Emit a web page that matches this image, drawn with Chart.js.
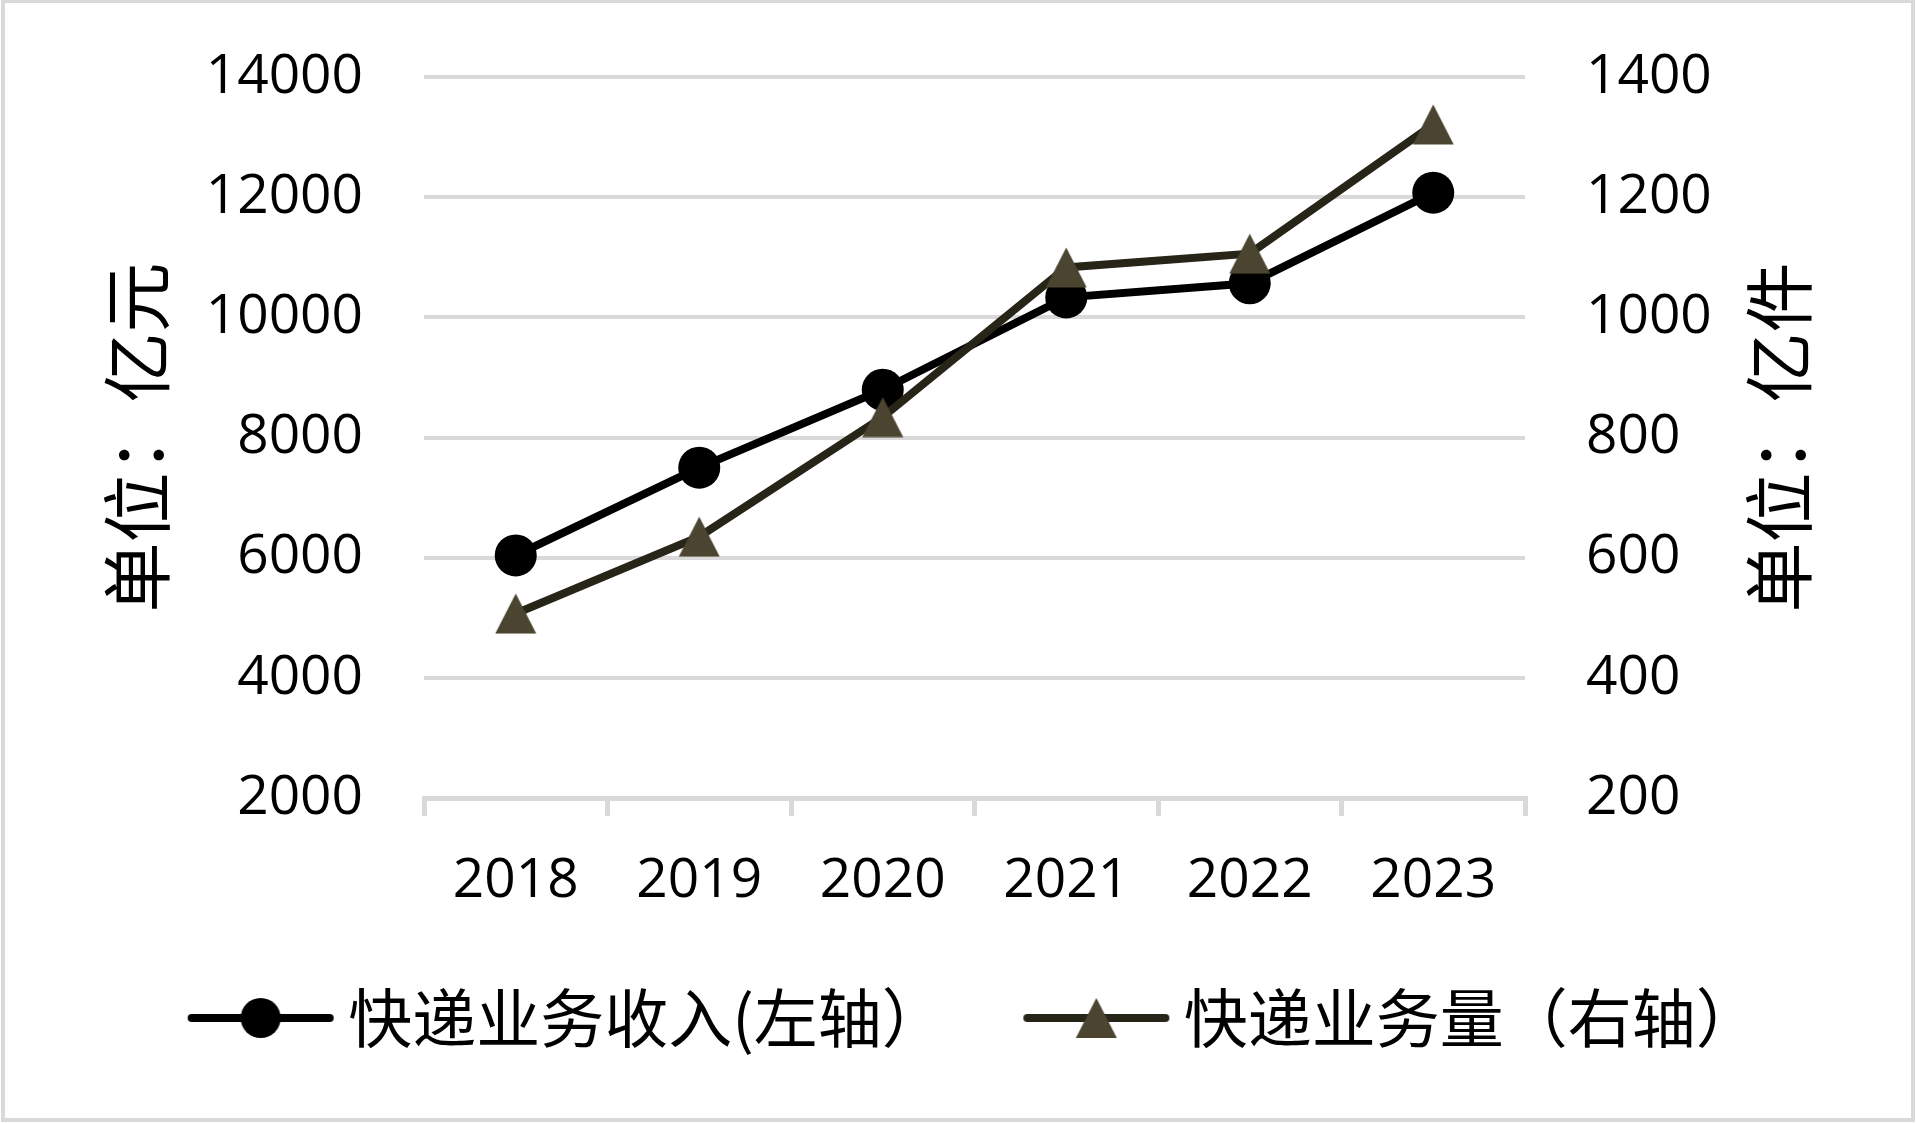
<!DOCTYPE html>
<html>
<head>
<meta charset="utf-8">
<script src="https://cdn.jsdelivr.net/npm/chart.js@4"></script>
<style>
  html, body { margin: 0; padding: 0; background: #fff; }
  #wrap { width: 1917px; height: 1123px; }
</style>
</head>
<body>
<div id="wrap"><canvas id="expressChart"></canvas></div>
<script>
// data
const years = ['2018', '2019', '2020', '2021', '2022', '2023'];
const revenue = [6038, 7498, 8795, 10332, 10567, 12074];   // 亿元, left axis
const volume = [507, 635, 834, 1083, 1106, 1321];          // 亿件, right axis
const seriesNames = ['快递业务收入(左轴）', '快递业务量（右轴）'];
const axisTitles = ['单位：亿元', '单位：亿件'];

const GRID = '#d9d9d9';
const revColor = '#000000';
const volLine = '#272418';
const volMarker = '#4a4430';

// triangle marker centred on its box, like the office-style marker
function triangle(g, cx, cy, w, h) {
  g.beginPath();
  g.moveTo(cx, cy - h / 2);
  g.lineTo(cx + w / 2, cy + h / 2);
  g.lineTo(cx - w / 2, cy + h / 2);
  g.closePath();
  g.fill();
}
const triMark = document.createElement('canvas');
triMark.width = 42; triMark.height = 41;
(() => {
  const g = triMark.getContext('2d');
  g.fillStyle = volMarker;
  triangle(g, 21, 20.5, 41, 40);
})();

// legend icons: line with marker in the middle
function makeIcon(lineColor, markColor, style) {
  const c = document.createElement('canvas');
  c.width = 148; c.height = 52;
  const g = c.getContext('2d');
  g.strokeStyle = lineColor;
  g.lineWidth = 8;
  g.lineCap = 'round';
  g.beginPath(); g.moveTo(5, 26); g.lineTo(143, 26); g.stroke();
  g.fillStyle = markColor;
  if (style === 'circle') {
    g.beginPath();
    g.arc(74, 26, 20, 0, Math.PI * 2);
    g.fill();
  } else {
    triangle(g, 74, 26, 41, 40);
  }
  return c;
}
const legendIcons = [
  makeIcon(revColor, revColor, 'circle'),
  makeIcon(volLine, volMarker, 'triangle')
];

// rotated unit titles on both sides (both read bottom to top)
const unitTitles = {
  id: 'unitTitles',
  afterDraw(chart) {
    const { ctx, chartArea } = chart;
    const cy = (chartArea.top + chartArea.bottom) / 2;
    ctx.save();
    ctx.fillStyle = '#000';
    ctx.font = '70px "Noto Sans CJK SC"';
    ctx.textAlign = 'center';
    ctx.textBaseline = 'middle';
    [[chartArea.left - 287, axisTitles[0]], [chartArea.right + 254, axisTitles[1]]].forEach(([x, t]) => {
      ctx.save();
      ctx.translate(x, cy);
      ctx.rotate(-Math.PI / 2);
      ctx.fillText(t, 0, 0);
      ctx.restore();
    });
    ctx.restore();
  }
};

// legend items sit a bit higher than the wide item padding would put them
const legendNudge = {
  id: 'legendNudge',
  afterLayout(chart) {
    if (chart.legend) {
      chart.legend.top -= 17;
      chart.legend.bottom -= 17;
    }
  }
};

// thin grey frame around the picture
const frame = {
  id: 'frame',
  beforeDraw(chart) {
    const { ctx, width, height } = chart;
    ctx.save();
    ctx.strokeStyle = GRID;
    ctx.lineWidth = 4;
    ctx.strokeRect(3, 1, width - 7, height - 4);
    ctx.restore();
  }
};

const tickFont = { family: '"Open Sans"', size: 55, lineHeight: 1 };
const plain = (v) => String(v);

new Chart(document.getElementById('expressChart'), {
  type: 'line',
  data: {
    labels: years,
    datasets: [
      {
        label: seriesNames[0],
        data: revenue,
        yAxisID: 'y',
        borderColor: revColor,
        backgroundColor: revColor,
        borderWidth: 8,
        pointStyle: 'circle',
        pointRadius: 21,
        pointBackgroundColor: revColor,
        pointBorderColor: revColor,
        pointBorderWidth: 0,
        tension: 0,
        order: 1
      },
      {
        label: seriesNames[1],
        data: volume,
        yAxisID: 'y1',
        borderColor: volLine,
        backgroundColor: volMarker,
        borderWidth: 8,
        pointStyle: triMark,
        pointRadius: 21,
        tension: 0,
        order: 0
      }
    ]
  },
  options: {
    responsive: true,
    maintainAspectRatio: false,
    animation: false,
    events: [],
    layout: { padding: { top: 77, bottom: 46, left: 48, right: 0 } },
    scales: {
      x: {
        offset: true,
        grid: { display: true, drawOnChartArea: false, drawTicks: true, tickLength: 18, color: GRID, lineWidth: 5, offset: true },
        border: { display: true, color: GRID, width: 5 },
        ticks: { color: '#000', font: tickFont, padding: 38, maxRotation: 0 },
        afterFit(s) { s.height = 110; }
      },
      y: {
        position: 'left',
        min: 2000,
        max: 14000,
        ticks: { stepSize: 2000, color: '#000', font: tickFont, padding: 6, callback: plain },
        grid: { color: GRID, lineWidth: 4, drawTicks: true, tickLength: 55, tickColor: 'rgba(0,0,0,0)' },
        border: { display: false },
        afterFit(s) { s.width = 376; }
      },
      y1: {
        position: 'right',
        min: 200,
        max: 1400,
        ticks: { stepSize: 200, color: '#000', font: tickFont, padding: 6, callback: plain },
        grid: { display: true, drawOnChartArea: false, drawTicks: true, tickLength: 55, tickColor: 'rgba(0,0,0,0)' },
        border: { display: false },
        afterFit(s) { s.width = 392; }
      }
    },
    plugins: {
      tooltip: { enabled: false },
      legend: {
        position: 'bottom',
        maxHeight: 169,
        labels: {
          usePointStyle: true,
          pointStyleWidth: 111,
          padding: 95,
          color: '#000',
          font: { family: '"Noto Sans CJK SC"', size: 64 },
          generateLabels(chart) {
            return chart.data.datasets.map((ds, i) => ({
              text: ds.label,
              pointStyle: legendIcons[i],
              fillStyle: ds.backgroundColor,
              strokeStyle: ds.borderColor,
              lineWidth: 0,
              hidden: false,
              datasetIndex: i,
              fontColor: '#000'
            }));
          }
        }
      }
    }
  },
  plugins: [frame, unitTitles, legendNudge]
});
</script>
</body>
</html>
